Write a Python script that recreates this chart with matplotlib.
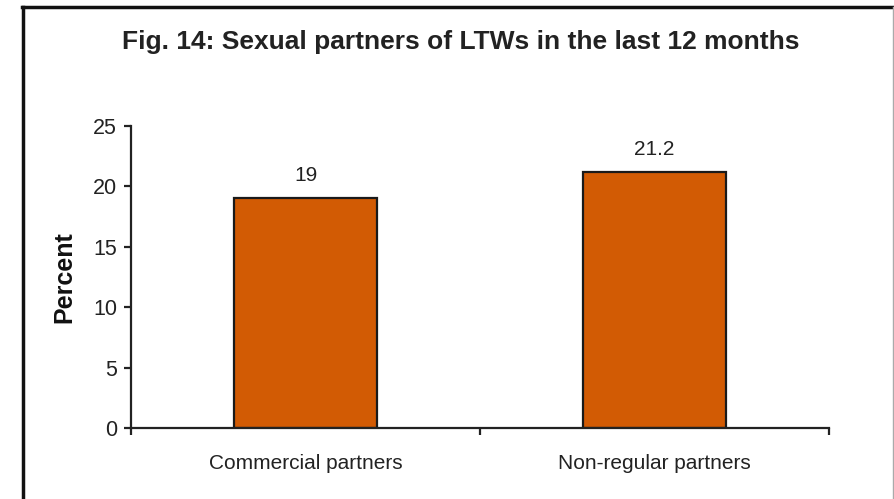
import matplotlib
matplotlib.use('Agg')
import matplotlib.pyplot as plt
from matplotlib.lines import Line2D

categories = ['Commercial partners', 'Non-regular partners']
values = [19, 21.2]
value_labels = ['19', '21.2']
yticks = [0, 5, 10, 15, 20, 25]

plt.rcParams['font.family'] = ['Liberation Sans', 'DejaVu Sans']

fig = plt.figure(figsize=(8.95, 4.99), dpi=100)
ax = fig.add_axes([131/895, 1 - 428/499, 698/895, 302/499])

x = range(len(categories))
bars = ax.bar(x, values, width=0.41, color='#D25B04', edgecolor='#1a1a1a', linewidth=1.6)
for b, lab in zip(bars, value_labels):
    ax.annotate(lab, (b.get_x() + b.get_width()/2, b.get_height()),
                xytext=(0, 12.5), textcoords='offset points',
                ha='center', va='baseline', fontsize=15, color='#222222')

ax.set_xlim(-0.5, 1.5)
ax.set_ylim(0, 25)
ax.set_yticks(yticks)
ax.set_xticks([-0.5, 0.5, 1.5])
ax.set_xticklabels([])
ax.set_xticks(list(x), minor=True)
ax.set_xticklabels(categories, minor=True, fontsize=15, color='#222222')
ax.tick_params(axis='x', which='minor', length=0, pad=19)
ax.tick_params(axis='x', which='major', length=5, width=1.6, color='#222222')
ax.tick_params(axis='y', length=5, width=1.6, color='#222222', labelsize=15.5,
               labelcolor='#222222', pad=5)
for s in ['top', 'right']:
    ax.spines[s].set_visible(False)
for s in ['left', 'bottom']:
    ax.spines[s].set_linewidth(1.6)
    ax.spines[s].set_color('#222222')

ax.set_ylabel('Percent', fontsize=18, fontweight='bold', color='#111111', labelpad=12)

fig.text(461/895, 1 - 42/499, 'Fig. 14: Sexual partners of LTWs in the last 12 months',
         ha='center', va='center', fontsize=19, fontweight='bold', color='#222222')

# frame around the figure: dark left/top edges, faint right edge
W, H = 895, 499
fig.add_artist(Line2D([23.5/W, 23.5/W], [0, 1 - 7/H], color='#111111', lw=2.5))
fig.add_artist(Line2D([22/W, 1], [1 - 7/H, 1 - 7/H], color='#111111', lw=2.5))
fig.add_artist(Line2D([893.5/W, 893.5/W], [0, 1 - 7/H], color='#aaaaaa', lw=1.0))

fig.savefig('out.png', dpi=100)
